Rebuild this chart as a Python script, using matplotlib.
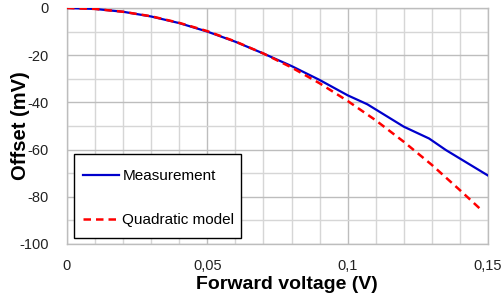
import matplotlib
matplotlib.use("Agg")
import matplotlib.pyplot as plt
from matplotlib.patches import Rectangle
from matplotlib.ticker import MultipleLocator, FuncFormatter

plt.rcParams["font.family"] = ["Liberation Sans", "DejaVu Sans"]

# values
meas_v = [0, 0.01, 0.02, 0.03, 0.04, 0.05, 0.06, 0.07, 0.08, 0.09, 0.1, 0.107, 0.12, 0.129, 0.135, 0.15]
meas_mv = [0, -0.4, -1.6, -3.6, -6.4, -10.0, -14.3, -19.3, -24.6, -30.5, -37.0, -40.8, -50.3, -55.3, -60.2, -71.0]

model_v = [0, 0.01, 0.02, 0.03, 0.04, 0.05, 0.06, 0.07, 0.08, 0.09, 0.1, 0.11, 0.12, 0.13, 0.14, 0.148]
model_mv = [0, -0.4, -1.6, -3.5, -6.3, -9.8, -14.2, -19.3, -25.2, -31.9, -39.4, -47.6, -56.7, -66.5, -77.2, -86.0]

fig = plt.figure(figsize=(5.04, 3.04), dpi=100)
ax = fig.add_axes([0.1329, 0.1974, 0.8354, 0.7763])

ax.plot(meas_v, meas_mv, color="#0000cc", lw=1.6, label="Measurement", zorder=3)
ax.plot(model_v, model_mv, color="#ff0000", lw=1.8, ls=(0, (3, 2)), label="Quadratic model", zorder=3)

ax.set_xlim(0, 0.15)
ax.set_ylim(-100, 0)
ax.xaxis.set_major_locator(MultipleLocator(0.05))
ax.xaxis.set_minor_locator(MultipleLocator(0.01))
ax.yaxis.set_major_locator(MultipleLocator(20))
ax.yaxis.set_minor_locator(MultipleLocator(10))
ax.xaxis.set_major_formatter(FuncFormatter(lambda v, p: ("%g" % round(v, 3)).replace(".", ",")))
ax.yaxis.set_major_formatter(FuncFormatter(lambda v, p: "%d" % v))
ax.grid(which="major", color="#bdbdbd", lw=1.0)
ax.grid(which="minor", color="#d6d6d6", lw=1.0)
ax.set_axisbelow(True)
ax.tick_params(which="both", length=0, labelsize=10.5, colors="#222222")
ax.tick_params(axis="x", pad=11)
ax.tick_params(axis="y", pad=13)
for s in ax.spines.values():
    s.set_color("#bdbdbd")
    s.set_linewidth(1.0)

ax.set_xlabel("Forward voltage (V)", fontsize=14, fontweight="bold")
ax.xaxis.set_label_coords(0.523, -0.135)
ax.set_ylabel("Offset (mV)", fontsize=14.5, fontweight="bold")
ax.yaxis.set_label_coords(-0.089, 0.5)

# legend box drawn by hand (reference has uneven padding)
ax.add_patch(Rectangle((0.0166, 0.0254), 0.3967, 0.3556, transform=ax.transAxes,
                       facecolor="white", edgecolor="black", lw=1.0, zorder=4))
leg = ax.legend(loc="upper left", bbox_to_anchor=(0.0373, 0.318), fontsize=11,
                frameon=False, labelspacing=1.98, handlelength=2.4, handletextpad=0.2,
                borderpad=0, borderaxespad=0)
leg.set_zorder(5)

fig.savefig("out.png", dpi=100)
